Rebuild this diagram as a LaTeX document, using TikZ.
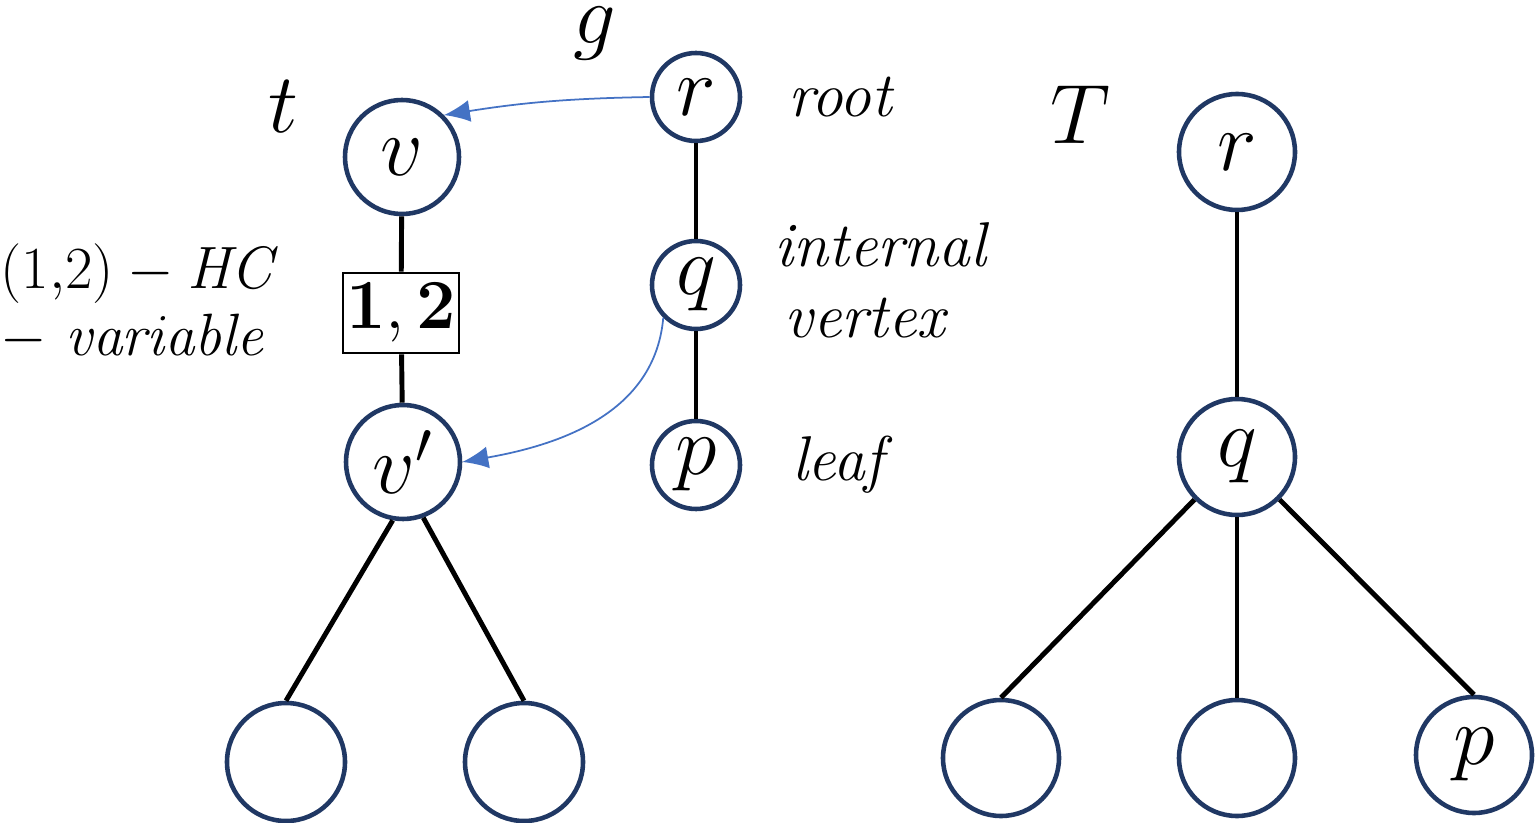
\RequirePackage{fix-cm}
\documentclass[tikz,border=0pt]{standalone}
\usetikzlibrary{arrows.meta}
\definecolor{navy}{RGB}{32,56,100}
\definecolor{mapblue}{RGB}{68,114,196}
\tikzset{
	vert/.style={circle,draw=navy,line width=1.3pt,minimum size=1.14cm,inner sep=0pt,
		font=\fontsize{24}{28}\selectfont},
	gvert/.style={vert,minimum size=0.88cm},
	hcbox/.style={draw,line width=0.8pt,minimum width=1.16cm,minimum height=0.8cm,inner sep=0pt,
		font=\fontsize{20}{24}\selectfont},
	edge/.style={line width=1.4pt},
	mapto/.style={mapblue,line width=0.5pt,-{Latex[length=2.6mm,width=2.2mm]}},
	lbl/.style={font=\fontsize{18}{22}\selectfont\itshape,inner sep=0pt},
	treename/.style={font=\fontsize{24}{28}\selectfont,inner sep=0pt}
}
\begin{document}
\begin{tikzpicture}
	\useasboundingbox (0,0) rectangle (15.38,-8.23);
	% tree t
	\node[treename] (tname) at (2.83,-1.07) {$t$};
	\node[vert] (v) at (4.02,-1.57) {$v$};
	\node[hcbox] (hc) at (4.01,-3.13) {$\mathbf{1,2}$};
	\node[vert] (vp) at (4.03,-4.62) {$v'$};
	\node[vert,minimum size=1.18cm] (tl1) at (2.86,-7.62) {};
	\node[vert,minimum size=1.18cm] (tl2) at (5.24,-7.62) {};
	\node[lbl,font=\fontsize{17}{19}\selectfont,align=left,anchor=west] (hclabel) at (0,-3.02)
		{$(1{,}2)-\mathit{HC}$\\$-\ \mathit{variable}$};
	\draw[edge] (v) -- (hc);
	\draw[edge] (hc) -- (vp);
	\draw[edge] (vp.-100) -- (tl1.north);
	\draw[edge] (vp.-70) -- (tl2.north);
	% tree g
	\node[treename] (gname) at (5.95,-0.34) {$g$};
	\node[gvert] (gr) at (6.96,-0.97) {$r$};
	\node[gvert] (gq) at (6.96,-2.85) {$q$};
	\node[gvert] (gp) at (6.96,-4.65) {$p$};
	\draw[edge] (gr) -- (gq);
	\draw[edge] (gq) -- (gp);
	\node[lbl] (lroot) at (8.40,-0.97) {root};
	\node[lbl,anchor=west] (linternal) at (7.74,-2.45) {internal};
	\node[lbl,anchor=west] (lvertex) at (7.84,-3.18) {vertex};
	\node[lbl] (lleaf) at (8.38,-4.65) {leaf};
	% mapping g -> t
	\draw[mapto] (gr.west) to[bend right=4] (v.north east);
	\draw[mapto] (gq.south west) to[out=-95,in=10] (vp.east);
	% tree T
	\node[treename] (Tname) at (10.80,-1.15) {$T$};
	\node[vert,minimum size=1.16cm] (Tr) at (12.37,-1.52) {$r$};
	\node[vert,minimum size=1.16cm] (Tq) at (12.37,-4.57) {$q$};
	\node[vert,minimum size=1.16cm] (Tl1) at (10.01,-7.58) {};
	\node[vert,minimum size=1.16cm] (Tl2) at (12.37,-7.58) {};
	\node[vert,minimum size=1.16cm] (Tp) at (14.74,-7.55) {$p$};
	\draw[edge] (Tr) -- (Tq);
	\draw[edge] (Tq.south west) -- (Tl1.north);
	\draw[edge] (Tq) -- (Tl2);
	\draw[edge] (Tq.south east) -- (Tp.north);
\end{tikzpicture}
\end{document}
